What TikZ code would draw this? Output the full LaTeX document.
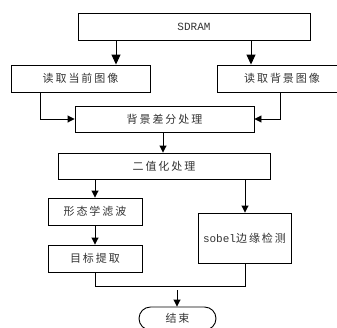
\documentclass[tikz,border=0pt]{standalone}
\usepackage{fontspec}
\setmainfont{Liberation Mono}
\newfontfamily\cjk[LetterSpace=18]{Noto Sans CJK SC}
\usetikzlibrary{arrows.meta}
\begin{document}
\begin{tikzpicture}[x=1pt,y=-1pt,
  box/.style={draw, line width=0.9pt, inner sep=0pt, font=\fontsize{11}{13}\selectfont, text=black!80},
  arr/.style={draw, line width=0.9pt, -{Triangle[length=7pt,width=7pt]}},
  bigarr/.style={draw, line width=0.9pt, -{Triangle[length=10pt,width=9pt]}},
  ln/.style={draw, line width=0.9pt}]
\useasboundingbox (0,0) rectangle (337,327);
\node[box, minimum width=232, minimum height=27] (sd) at (194,26.5) {SDRAM};
\node[box, minimum width=139, minimum height=27] (cur) at (80.5,78.5) {\cjk 读取当前图像};
\node[box, minimum width=130, minimum height=27] (bgi) at (282,78.5) {\cjk 读取背景图像};
\node[box, minimum width=179, minimum height=26] (dif) at (164.5,119) {\cjk 背景差分处理};
\node[box, minimum width=212, minimum height=26] (bin) at (164,166) {\cjk 二值化处理};
\node[box, minimum width=94, minimum height=27] (mor) at (95,211.5) {\cjk 形态学滤波};
\node[box, minimum width=94, minimum height=27] (tgt) at (95,258.5) {\cjk 目标提取};
\node[box, minimum width=93, minimum height=50] (sob) at (244.5,238) {sobel{\cjk 边缘检测}};
\node[box, minimum width=77, minimum height=23, rounded corners=11.5pt] (en) at (177.5,318.5) {\cjk 结束};
\coordinate (c1) at (116,0);
\coordinate (c2) at (251,0);
\coordinate (c3) at (40,0);
\coordinate (c4) at (280,0);
\coordinate (c5) at (163,0);
\coordinate (c6) at (95,0);
\coordinate (c7) at (245,0);
\coordinate (jn) at (0,286);
\coordinate (ea) at (177,290);
\draw[bigarr] (sd.south -| c1) -- (cur.north -| c1);
\draw[bigarr] (sd.south -| c2) -- (bgi.north -| c2);
\draw[arr] (cur.south -| c3) |- (dif.west);
\draw[arr] (bgi.south -| c4) |- (dif.east);
\draw[arr] (dif.south -| c5) -- (bin.north -| c5);
\draw[arr] (bin.south -| c6) -- (mor.north -| c6);
\draw[arr] (bin.south -| c7) -- (sob.north -| c7);
\draw[arr] (mor.south -| c6) -- (tgt.north -| c6);
\draw[ln] (tgt.south -| c6) |- (jn -| c7) -- (sob.south -| c7);
\draw[arr] (ea) -- (en.north -| ea);
\end{tikzpicture}
\end{document}
